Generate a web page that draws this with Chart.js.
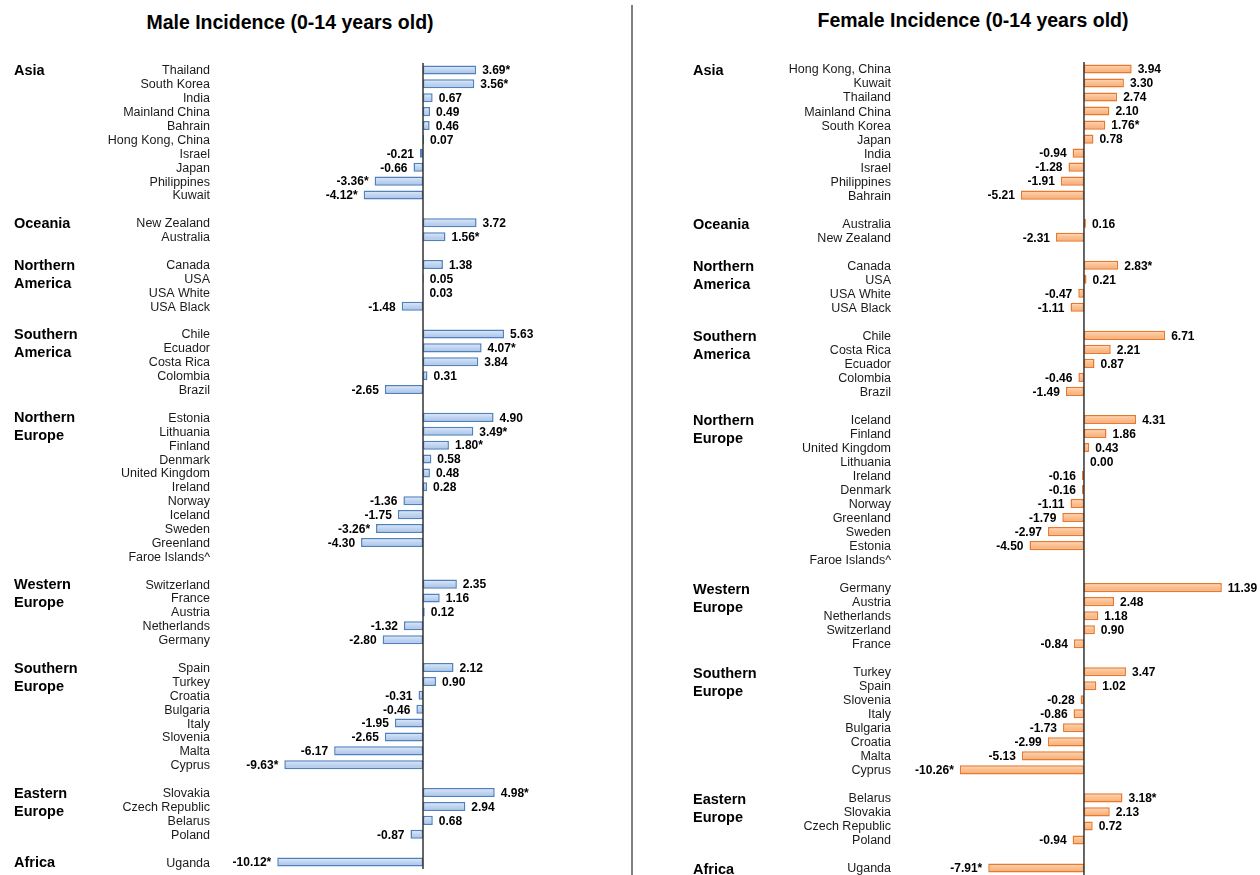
<!DOCTYPE html>
<html>
<head>
<meta charset="utf-8">
<script src="https://cdn.jsdelivr.net/npm/chart.js@4.4.1/dist/chart.umd.min.js"></script>
<style>
  html, body { margin: 0; padding: 0; background: #ffffff; }
  body { width: 1260px; height: 875px; position: relative; overflow: hidden; font-family: 'Liberation Sans', Arial, sans-serif; }
  .title { position: absolute; font-weight: bold; font-size: 19.5px; line-height: 24px; text-align: center; color: #000; white-space: nowrap; }
  #divider { position: absolute; left: 631px; top: 5px; width: 2px; height: 870px; background: #808080; }
  canvas { position: absolute; top: 0; }
</style>
</head>
<body>
<div class="title" style="left:90px; width:400px; top:10px;">Male Incidence (0-14 years old)</div>
<div class="title" style="left:773px; width:400px; top:8px;">Female Incidence (0-14 years old)</div>
<div id="divider"></div>
<canvas id="male" width="630" height="875" style="left:0px;"></canvas>
<canvas id="female" width="626" height="875" style="left:634px;"></canvas>
<script>
// ---------- DATA ----------
const regionNames = ['Asia', 'Oceania', 'Northern\nAmerica', 'Southern\nAmerica', 'Northern\nEurope',
  'Western\nEurope', 'Southern\nEurope', 'Eastern\nEurope', 'Africa'];

const maleGroupSizes = [10, 2, 4, 5, 11, 5, 8, 4, 1];
const maleCountries = [
  'Thailand', 'South Korea', 'India', 'Mainland China', 'Bahrain', 'Hong Kong, China', 'Israel', 'Japan', 'Philippines', 'Kuwait',
  'New Zealand', 'Australia',
  'Canada', 'USA', 'USA White', 'USA Black',
  'Chile', 'Ecuador', 'Costa Rica', 'Colombia', 'Brazil',
  'Estonia', 'Lithuania', 'Finland', 'Denmark', 'United Kingdom', 'Ireland', 'Norway', 'Iceland', 'Sweden', 'Greenland', 'Faroe Islands^',
  'Switzerland', 'France', 'Austria', 'Netherlands', 'Germany',
  'Spain', 'Turkey', 'Croatia', 'Bulgaria', 'Italy', 'Slovenia', 'Malta', 'Cyprus',
  'Slovakia', 'Czech Republic', 'Belarus', 'Poland',
  'Uganda'
];
const maleValues = [
  3.69, 3.56, 0.67, 0.49, 0.46, 0.07, -0.21, -0.66, -3.36, -4.12,
  3.72, 1.56,
  1.38, 0.05, 0.03, -1.48,
  5.63, 4.07, 3.84, 0.31, -2.65,
  4.90, 3.49, 1.80, 0.58, 0.48, 0.28, -1.36, -1.75, -3.26, -4.30, null,
  2.35, 1.16, 0.12, -1.32, -2.80,
  2.12, 0.90, -0.31, -0.46, -1.95, -2.65, -6.17, -9.63,
  4.98, 2.94, 0.68, -0.87,
  -10.12
];
const maleSignificant = [
  1, 1, 0, 0, 0, 0, 0, 0, 1, 1,
  0, 1,
  0, 0, 0, 0,
  0, 1, 0, 0, 0,
  0, 1, 1, 0, 0, 0, 0, 0, 1, 0, 0,
  0, 0, 0, 0, 0,
  0, 0, 0, 0, 0, 0, 0, 1,
  1, 0, 0, 0,
  1
];

const femaleGroupSizes = [10, 2, 4, 5, 11, 5, 8, 4, 1];
const femaleCountries = [
  'Hong Kong, China', 'Kuwait', 'Thailand', 'Mainland China', 'South Korea', 'Japan', 'India', 'Israel', 'Philippines', 'Bahrain',
  'Australia', 'New Zealand',
  'Canada', 'USA', 'USA White', 'USA Black',
  'Chile', 'Costa Rica', 'Ecuador', 'Colombia', 'Brazil',
  'Iceland', 'Finland', 'United Kingdom', 'Lithuania', 'Ireland', 'Denmark', 'Norway', 'Greenland', 'Sweden', 'Estonia', 'Faroe Islands^',
  'Germany', 'Austria', 'Netherlands', 'Switzerland', 'France',
  'Turkey', 'Spain', 'Slovenia', 'Italy', 'Bulgaria', 'Croatia', 'Malta', 'Cyprus',
  'Belarus', 'Slovakia', 'Czech Republic', 'Poland',
  'Uganda'
];
const femaleValues = [
  3.94, 3.30, 2.74, 2.10, 1.76, 0.78, -0.94, -1.28, -1.91, -5.21,
  0.16, -2.31,
  2.83, 0.21, -0.47, -1.11,
  6.71, 2.21, 0.87, -0.46, -1.49,
  4.31, 1.86, 0.43, 0.00, -0.16, -0.16, -1.11, -1.79, -2.97, -4.50, null,
  11.39, 2.48, 1.18, 0.90, -0.84,
  3.47, 1.02, -0.28, -0.86, -1.73, -2.99, -5.13, -10.26,
  3.18, 2.13, 0.72, -0.94,
  -7.91
];
const femaleSignificant = [
  0, 0, 0, 0, 1, 0, 0, 0, 0, 0,
  0, 0,
  1, 0, 0, 0,
  0, 0, 0, 0, 0,
  0, 0, 0, 0, 0, 0, 0, 0, 0, 0, 0,
  0, 0, 0, 0, 0,
  0, 0, 0, 0, 0, 0, 0, 1,
  1, 0, 0, 0,
  1
];

// ---------- BUILD ROWS (blank spacer row between regions) ----------
function buildRows(groupSizes, countries, values, sig) {
  const labels = [], data = [], stars = [], firstRow = [];
  let k = 0;
  groupSizes.forEach((n, g) => {
    if (g > 0) { labels.push(''); data.push(null); stars.push(0); }
    firstRow.push(labels.length);
    for (let i = 0; i < n; i++, k++) {
      labels.push(countries[k]); data.push(values[k]); stars.push(sig[k]);
    }
  });
  return { labels, data, stars, firstRow };
}

const FONT = "'Liberation Sans', Arial, sans-serif";

function annotationPlugin(rows, regionX, regionDy) {
  return {
    id: 'annot',
    afterDatasetsDraw(chart) {
      const ctx = chart.ctx;
      const xs = chart.scales.x, ys = chart.scales.y;
      const area = chart.chartArea;
      // zero line
      const x0 = xs.getPixelForValue(0);
      ctx.save();
      ctx.strokeStyle = '#333333';
      ctx.lineWidth = 1.5;
      ctx.beginPath();
      ctx.moveTo(x0, area.top);
      ctx.lineTo(x0, area.bottom);
      ctx.stroke();
      // value labels
      ctx.font = 'bold 12px ' + FONT;
      ctx.fillStyle = '#000';
      ctx.textBaseline = 'middle';
      const meta = chart.getDatasetMeta(0);
      rows.data.forEach((v, i) => {
        if (v === null || v === undefined) return;
        const el = meta.data[i];
        const txt = v.toFixed(2) + (rows.stars[i] ? '*' : '');
        if (v >= 0) { ctx.textAlign = 'left'; ctx.fillText(txt, el.x + 6, el.y + 1); }
        else { ctx.textAlign = 'right'; ctx.fillText(txt, el.x - 6, el.y + 1); }
      });
      // region labels
      ctx.font = 'bold 14.5px ' + FONT;
      ctx.textAlign = 'left';
      regionNames.forEach((name, g) => {
        const y = ys.getPixelForValue(rows.firstRow[g]) + regionDy;
        name.split('\n').forEach((line, j) => ctx.fillText(line, regionX, y + j * 18));
      });
      ctx.restore();
    }
  };
}

function barGradient(stops) {
  return (c) => {
    const ys = c.chart.scales.y;
    if (!ys || ys.top === undefined) return stops[1];
    const y = ys.getPixelForValue(c.dataIndex);
    const g = c.chart.ctx.createLinearGradient(0, y - 4.5, 0, y + 4.5);
    g.addColorStop(0, stops[0]);
    g.addColorStop(0.45, stops[1]);
    g.addColorStop(1, stops[2]);
    return g;
  };
}

function makeChart(id, rows, cfg) {
  return new Chart(document.getElementById(id), {
    type: 'bar',
    data: {
      labels: rows.labels,
      datasets: [{
        data: rows.data,
        backgroundColor: barGradient(cfg.fill),
        borderColor: cfg.border,
        borderWidth: 1.5,
        borderSkipped: false,
        barPercentage: 0.65,
        categoryPercentage: 1.0
      }]
    },
    options: {
      indexAxis: 'y',
      responsive: false,
      animation: false,
      layout: { padding: cfg.padding },
      plugins: { legend: { display: false }, title: { display: false }, tooltip: { enabled: false } },
      scales: {
        x: { display: false, min: cfg.min, max: cfg.max },
        y: {
          grid: { display: false, drawTicks: false },
          border: { display: false },
          ticks: { autoSkip: false, padding: 6, labelOffset: 1, color: '#1a1a1a', font: { family: FONT, size: 12.5 } },
          afterFit(scale) {
            scale.width = cfg.axisWidth;
            scale.paddingTop = 0;
            scale.paddingBottom = 0;
          }
        }
      }
    },
    plugins: [annotationPlugin(rows, cfg.regionX, cfg.regionDy)]
  });
}

const maleRows = buildRows(maleGroupSizes, maleCountries, maleValues, maleSignificant);
const femaleRows = buildRows(femaleGroupSizes, femaleCountries, femaleValues, femaleSignificant);

makeChart('male', maleRows, {
  fill: ['#e2ecf9', '#c3d6f1', '#a8c2e9'], border: '#4f81bd',
  padding: { top: 63, right: 10, bottom: 6, left: 0 },
  axisWidth: 216, min: -14.375, max: 13.68, regionX: 14, regionDy: 1
});
makeChart('female', femaleRows, {
  fill: ['#fdd9bc', '#fbc193', '#f8ab70'], border: '#e8782c',
  padding: { top: 62, right: 2, bottom: 0, left: 0 },
  axisWidth: 263, min: -15.45, max: 14.38, regionX: 59, regionDy: 2
});
</script>
</body>
</html>
